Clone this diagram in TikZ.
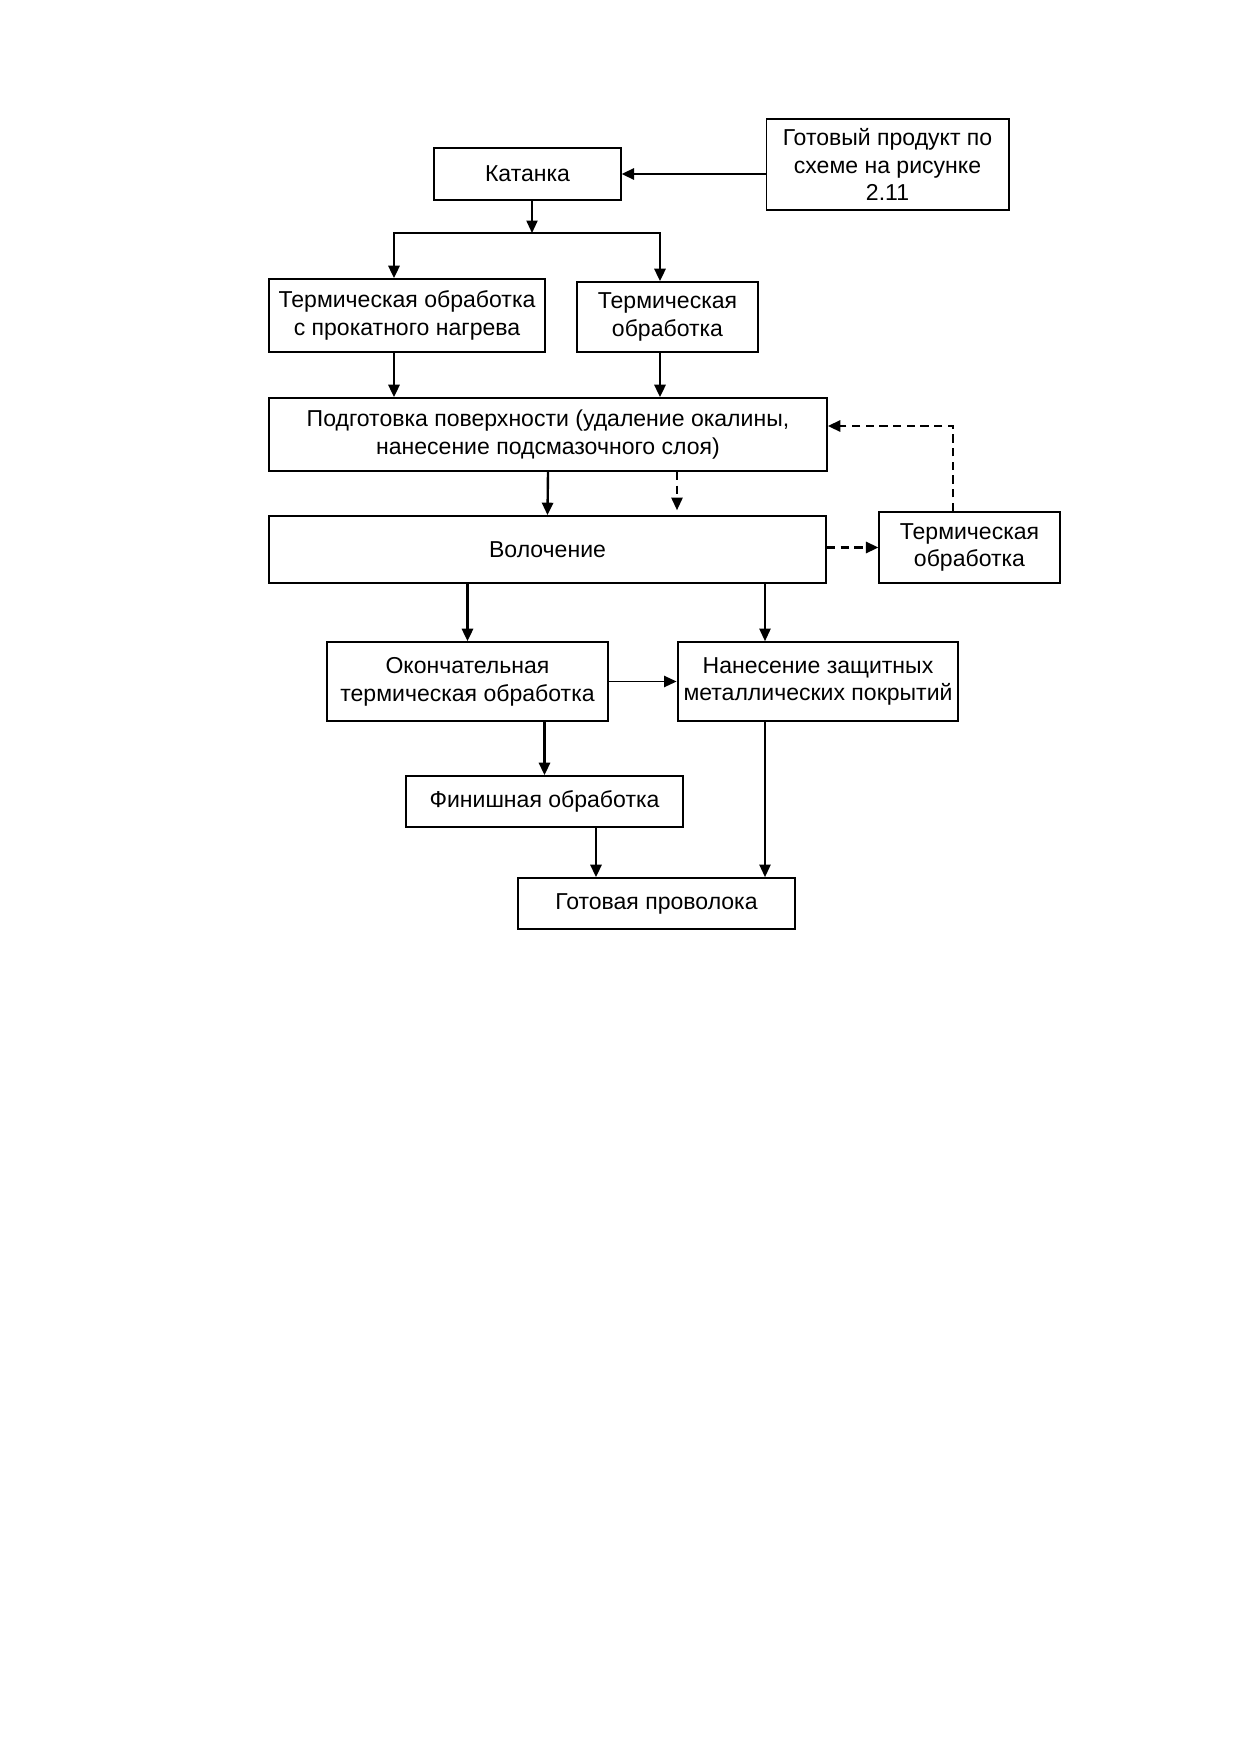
\documentclass[tikz,border=0pt]{standalone}
\usepackage{fontspec}
\setmainfont{Liberation Sans}
\usetikzlibrary{arrows.meta}
\tikzset{
    blk/.style={draw, line width=0.95pt, align=center, inner sep=0pt, font=\fontsize{11.1}{13.4}\selectfont},
    arr/.style={line width=1.15pt, -{Triangle[length=6pt,width=5.4pt]}},
    arrthin/.style={line width=0.75pt, -{Triangle[length=6pt,width=5.4pt]}},
    darr/.style={arr, dash pattern=on 4pt off 2.6pt}
}
\begin{document}
\begin{tikzpicture}[x=0.016935cm, y=-0.016935cm]
        \useasboundingbox (0,0) rectangle (1240,1754);
        \node[blk, minimum width=187*0.48pt, minimum height=52*0.48pt] (kat) at (527.5,174) {Катанка};
        \node[blk, minimum width=243*0.48pt, minimum height=91*0.48pt] (gotprod) at (887.5,164.5) {Готовый продукт по\\схеме на рисунке\\2.11};
        \node[blk, minimum width=278*0.48pt, minimum height=73*0.48pt] (term1) at (407,315.5) {Термическая обработка\\с прокатного нагрева};
        \node[blk, minimum width=181*0.48pt, minimum height=70*0.48pt] (term2) at (667.5,317) {Термическая\\обработка};
        \node[blk, minimum width=560*0.48pt, minimum height=73*0.48pt] (podg) at (548,434.5) {Подготовка поверхности (удаление окалины,\\нанесение подсмазочного слоя)};
        \node[blk, minimum width=559*0.48pt, minimum height=67*0.48pt] (voloch) at (547.5,549.5) {Волочение};
        \node[blk, minimum width=181*0.48pt, minimum height=71*0.48pt] (term3) at (969.5,547.5) {Термическая\\обработка};
        \node[blk, minimum width=283*0.48pt, minimum height=79*0.48pt] (okon) at (467.5,681.5) {Окончательная\\термическая обработка};
        \node[blk, minimum width=282*0.48pt, minimum height=79*0.48pt] (nanes) at (818,681.5) {Нанесение защитных\\металлических покрытий};
        \node[blk, minimum width=279*0.48pt, minimum height=51*0.48pt] (finish) at (544.5,801.5) {Финишная обработка};
        \node[blk, minimum width=279*0.48pt, minimum height=51*0.48pt] (gotov) at (656.5,903.5) {Готовая проволока};
        \coordinate (split) at (532,233);
        \coordinate (c1) at (394,0);
        \coordinate (c2) at (660,0);
        \coordinate (c3) at (677,0);
        \coordinate (fb) at (953,426);
        \coordinate (c5) at (765,0);
        \coordinate (c6) at (596,0);
        \draw[arr] (gotprod.west |- kat.east) -- (kat.east);
        \draw[arrthin] (kat.south -| split) -- (split);
        \draw[arr] (split) -| (term1.north -| c1);
        \draw[arr] (split) -| (term2.north -| c2);
        \draw[arr] (term1.south -| c1) -- (podg.north -| c1);
        \draw[arr] (term2.south -| c2) -- (podg.north -| c2);
        \draw[arr] (podg.south) -- (voloch.north);
        \draw[darr, line width=0.8pt, shorten >=2.4pt] (podg.south -| c3) -- (voloch.north -| c3);
        \draw[darr] (voloch.east |- term3.west) -- (term3.west);
        \draw[darr] (term3.north -| fb) -- (fb) -- (podg.east |- fb);
        \draw[arr] (voloch.south -| okon.north) -- (okon.north);
        \draw[arrthin] (voloch.south -| c5) -- (nanes.north -| c5);
        \draw[arrthin] (okon.east) -- (nanes.west);
        \draw[arr] (okon.south -| finish.north) -- (finish.north);
        \draw[arr] (finish.south -| c6) -- (gotov.north -| c6);
        \draw[arrthin] (nanes.south -| c5) -- (gotov.north -| c5);
\end{tikzpicture}
\end{document}
